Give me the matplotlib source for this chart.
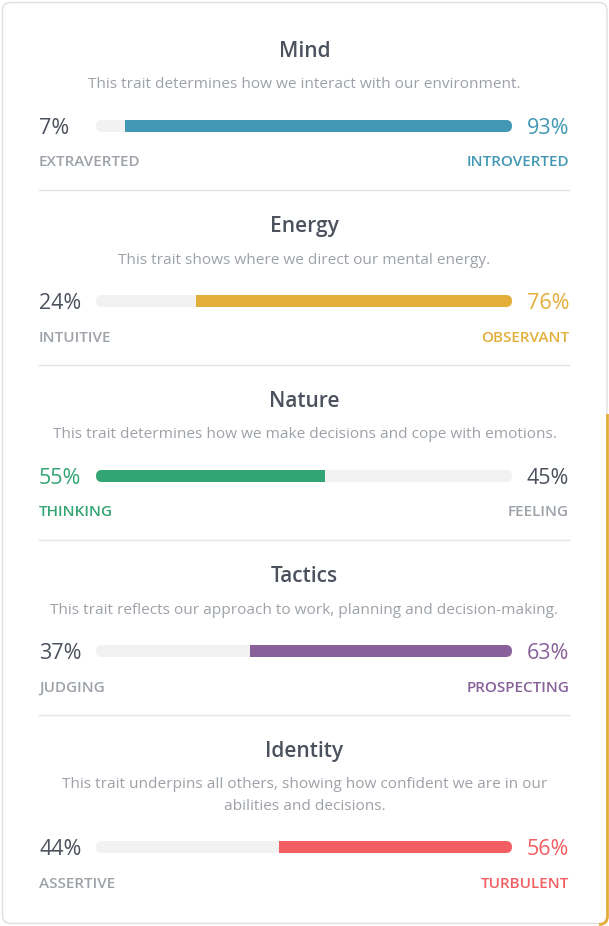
import matplotlib
matplotlib.use("Agg")
import matplotlib.pyplot as plt
from matplotlib.patches import FancyBboxPatch, PathPatch
from matplotlib.path import Path

plt.rcParams['font.family'] = ['Open Sans', 'DejaVu Sans']

# ---- data ----
traits = ["Mind", "Energy", "Nature", "Tactics", "Identity"]
descriptions = [
    "This trait determines how we interact with our environment.",
    "This trait shows where we direct our mental energy.",
    "This trait determines how we make decisions and cope with emotions.",
    "This trait reflects our approach to work, planning and decision-making.",
    "This trait underpins all others, showing how confident we are in our\nabilities and decisions.",
]
left_labels = ["EXTRAVERTED", "INTUITIVE", "THINKING", "JUDGING", "ASSERTIVE"]
right_labels = ["INTROVERTED", "OBSERVANT", "FEELING", "PROSPECTING", "TURBULENT"]
left_pct = [7, 24, 55, 37, 44]
right_pct = [93, 76, 45, 63, 56]
trait_colors = ["#4298b4", "#e4ae3a", "#33a474", "#88619a", "#f25e62"]

# ---- styles ----
W, H = 609, 926
DARK = "#4b515d"
GRAY = "#9da1a8"
TRACK = "#f2f2f2"
DIVIDER = "#e3e3e3"

fig = plt.figure(figsize=(W / 100, H / 100), dpi=100)
bg = fig.add_axes([0, 0, 1, 1])
bg.set_xlim(0, W)
bg.set_ylim(H, 0)
bg.axis("off")

# card
card = FancyBboxPatch((2.5, 2.5), 604.5, 921, boxstyle="round,pad=0,rounding_size=8",
                      facecolor="white", edgecolor="#dedede", lw=1)
bg.add_patch(card)
gold = Path([(607.5, 414), (607.5, 916), (607.5, 924.5), (599, 924.5)],
            [Path.MOVETO, Path.LINETO, Path.CURVE3, Path.CURVE3])
bg.add_patch(PathPatch(gold, facecolor="none", edgecolor="#e4ae3a", lw=2))

bar_left_px, bar_w_px, bar_h_px = 96, 416, 12
for i, t in enumerate(traits):
    lines = descriptions[i].split("\n")
    extra = 21 * (len(lines) - 1)
    base = 175 * i
    col = trait_colors[i]
    right_dom = right_pct[i] > left_pct[i]

    bg.text(W / 2, base + 57, t, ha="center", va="baseline", fontsize=15,
            color=DARK, fontweight="semibold")
    for k, ln in enumerate(lines):
        bg.text(W / 2, base + 88.5 + 21 * k, ln, ha="center", va="baseline",
                fontsize=11.1, color=GRAY)
    by = base + 126 + extra
    bg.text(39, by + 8.3, f"{left_pct[i]}%", ha="left", va="baseline", fontsize=15.5,
            color=DARK if right_dom else col)
    bg.text(569, by + 8.3, f"{right_pct[i]}%", ha="right", va="baseline", fontsize=15.5,
            color=col if right_dom else DARK)
    bg.text(39, by + 40.5, left_labels[i], ha="left", va="baseline", fontsize=11,
            color=GRAY if right_dom else col, fontweight="semibold")
    bg.text(569, by + 40.5, right_labels[i], ha="right", va="baseline", fontsize=11,
            color=col if right_dom else GRAY, fontweight="semibold")
    if i < len(traits) - 1:
        bg.plot([39, 569], [base + 190, base + 190], color=DIVIDER, lw=1)

    # bar axes
    bax = fig.add_axes([bar_left_px / W, 1 - (by + bar_h_px / 2) / H,
                        bar_w_px / W, bar_h_px / H])
    hdat = 100 * bar_h_px / bar_w_px
    bax.set_xlim(0, 100)
    bax.set_ylim(0, hdat)
    bax.axis("off")
    track = FancyBboxPatch((0, 0), 100, hdat,
                           boxstyle=f"round,pad=0,rounding_size={hdat / 2}",
                           facecolor=TRACK, edgecolor="none")
    bax.add_patch(track)
    if right_dom:
        bars = bax.barh([hdat / 2], [right_pct[i]], left=[left_pct[i]], height=hdat, color=col)
    else:
        bars = bax.barh([hdat / 2], [left_pct[i]], left=[0], height=hdat, color=col)
    for b in bars:
        b.set_clip_path(track)

fig.savefig("out.png", dpi=100)
